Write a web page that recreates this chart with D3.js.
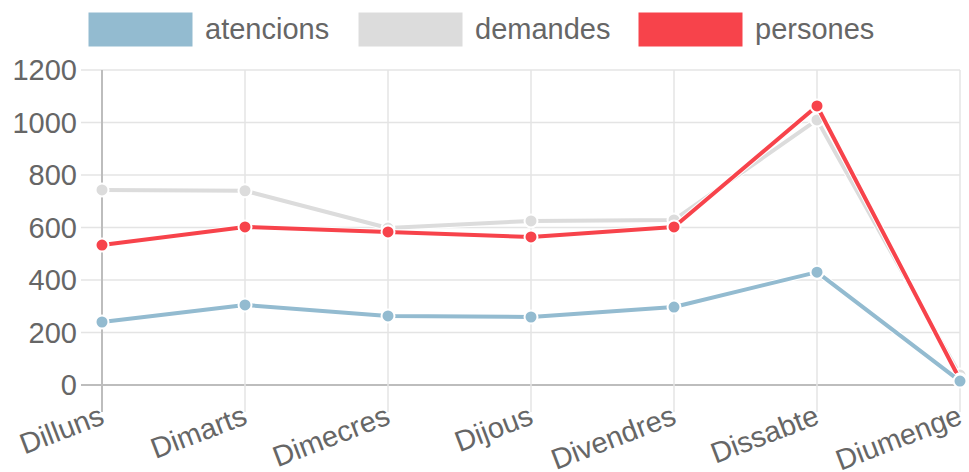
<!DOCTYPE html>
<html>
<head>
<meta charset="utf-8">
<script src="https://cdn.jsdelivr.net/npm/d3@7"></script>
<style>
  body { margin: 0; background: #fff; }
  svg text { font-family: "Liberation Sans", Arial, sans-serif; fill: #666; }
</style>
</head>
<body>
<svg id="chart" width="969" height="472"></svg>
<script>
// --- Data ---
const days = ['Dilluns', 'Dimarts', 'Dimecres', 'Dijous', 'Divendres', 'Dissabte', 'Diumenge'];
const atencions = [240, 305, 263, 259, 297, 430, 15];
const demandes = [743, 740, 598, 625, 629, 1010, 38];
const persones = [533, 602, 583, 564, 602, 1063, 20];
const yTicks = [0, 200, 400, 600, 800, 1000, 1200];

const series = [
  { name: 'atencions', values: atencions, color: '#93bbd0' },
  { name: 'demandes', values: demandes, color: '#dcdcdc' },
  { name: 'persones', values: persones, color: '#f7434b' }
];

// --- Layout ---
const svg = d3.select('#chart');
const x = d3.scalePoint().domain(days).range([102, 960]);
const y = d3.scaleLinear().domain([0, 1200]).range([385, 70]);

// grid lines
svg.append('g').selectAll('line')
  .data(yTicks)
  .enter().append('line')
  .attr('x1', 81).attr('x2', 960)
  .attr('y1', d => y(d)).attr('y2', d => y(d))
  .attr('stroke', d => d === 0 ? '#bdbdbd' : '#e4e4e4')
  .attr('stroke-width', d => d === 0 ? 2 : 1.5);

svg.append('g').selectAll('line')
  .data(days)
  .enter().append('line')
  .attr('x1', d => x(d)).attr('x2', d => x(d))
  .attr('y1', 70).attr('y2', 412)
  .attr('stroke', (d, i) => i === 0 ? '#bdbdbd' : '#e4e4e4')
  .attr('stroke-width', (d, i) => i === 0 ? 2 : 1.5);

// y labels
svg.append('g').selectAll('text')
  .data(yTicks)
  .enter().append('text')
  .attr('x', 77).attr('y', d => y(d))
  .attr('dy', '0.36em')
  .attr('text-anchor', 'end')
  .attr('font-size', 29)
  .text(d => d);

// x labels (rotated)
svg.append('g').selectAll('text')
  .data(days)
  .enter().append('text')
  .attr('transform', d => `translate(${x(d) - 4},${403}) rotate(-21)`)
  .attr('text-anchor', 'end')
  .attr('dy', '0.75em')
  .attr('font-size', 29)
  .text(d => d);

// --- Lines ---
const line = d3.line()
  .x((d, i) => x(days[i]))
  .y(d => y(d));

const drawOrder = [series[1], series[2], series[0]];
drawOrder.forEach(s => {
  const g = svg.append('g');
  g.append('path')
    .attr('d', line(s.values))
    .attr('fill', 'none')
    .attr('stroke', '#fff')
    .attr('stroke-width', 6)
    .attr('stroke-linejoin', 'round');
  g.append('path')
    .attr('d', line(s.values))
    .attr('fill', 'none')
    .attr('stroke', s.color)
    .attr('stroke-width', 4)
    .attr('stroke-linejoin', 'round');
  g.selectAll('circle')
    .data(s.values)
    .enter().append('circle')
    .attr('cx', (d, i) => x(days[i]))
    .attr('cy', d => y(d))
    .attr('r', 6.5)
    .attr('fill', s.color)
    .attr('stroke', '#fff')
    .attr('stroke-width', 2);
});

// --- Legend ---
const legendX = [88, 358, 638];
const legend = svg.append('g').selectAll('g')
  .data(series)
  .enter().append('g')
  .attr('transform', (d, i) => `translate(${legendX[i]},12)`);

legend.append('rect')
  .attr('width', 105).attr('height', 35)
  .attr('fill', d => d.color)
  .attr('stroke', '#fff')
  .attr('stroke-width', 1);

legend.append('text')
  .attr('x', 117).attr('y', 17)
  .attr('dy', '0.36em')
  .attr('font-size', 29)
  .text(d => d.name);
</script>
</body>
</html>
